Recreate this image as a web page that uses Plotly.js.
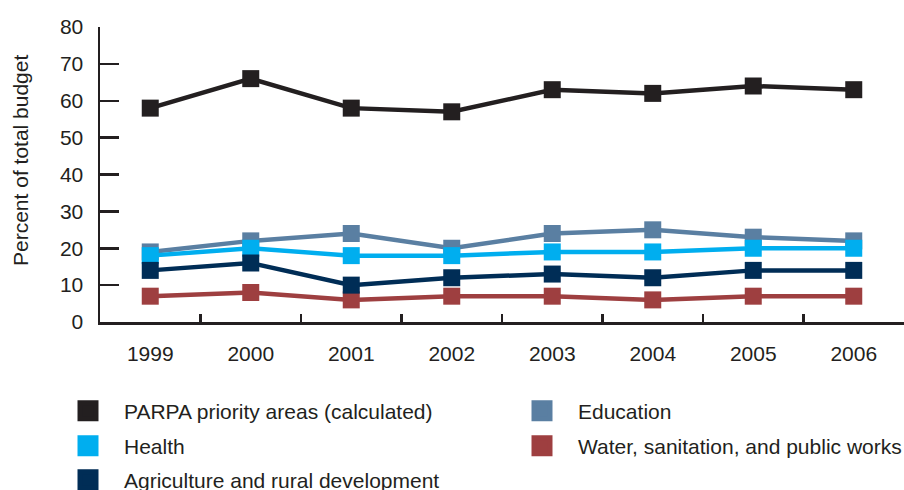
<!DOCTYPE html>
<html>
<head>
<meta charset="utf-8">
<script src="https://cdn.plot.ly/plotly-3.0.1.min.js"></script>
<style>html,body{margin:0;padding:0;background:#fff;}#chart{width:904px;height:490px;}</style>
</head>
<body>
<div id="chart"></div>
<script>
const years = ['1999','2000','2001','2002','2003','2004','2005','2006'];
const parpa = [58, 66, 58, 57, 63, 62, 64, 63];
const education = [19, 22, 24, 20, 24, 25, 23, 22];
const health = [18, 20, 18, 18, 19, 19, 20, 20];
const water = [7, 8, 6, 7, 7, 6, 7, 7];
const agriculture = [14, 16, 10, 12, 13, 12, 14, 14];
const yTicks = [0, 10, 20, 30, 40, 50, 60, 70, 80];
const seriesNames = ['PARPA priority areas (calculated)', 'Education', 'Health', 'Water, sanitation, and public works', 'Agriculture and rural development'];
const seriesValues = [parpa, education, health, water, agriculture];
const seriesColors = ['#231f20', '#5a7fa2', '#00aeef', '#9e3f40', '#002d56'];
const legendNames = ['legend', 'legend2', 'legend3', 'legend4', 'legend5'];

const FONT = 'Liberation Sans, Arial, sans-serif';
const INK = '#231f20';
const FS = 21;

const traces = [];
seriesValues.forEach((vals, i) => {
  traces.push({
    x: years, y: vals, type: 'scatter', mode: 'lines+markers',
    name: seriesNames[i], showlegend: false,
    line: {color: seriesColors[i], width: 4.5},
    marker: {symbol: 'square', size: 17, color: seriesColors[i]},
    hoverinfo: 'skip'
  });
});
// legend-only swatches
seriesValues.forEach((vals, i) => {
  traces.push({
    x: [null], y: [null], type: 'scatter', mode: 'markers',
    name: seriesNames[i], showlegend: true, legend: legendNames[i],
    marker: {symbol: 'square', size: 16, color: seriesColors[i], line: {color: seriesColors[i], width: 5}}
  });
});

// pixel -> paper helpers for layout placement
const L = 100, R = 904, T = 27, B = 322;
const px = v => (v - L) / (R - L);
const py = v => (B - v) / (B - T);
const legendPos = [[52, 411], [506, 411], [52, 446], [506, 446], [52, 480]];

const layout = {
  width: 904, height: 490,
  margin: {l: L, r: 904 - R, t: T, b: 490 - B, autoexpand: false},
  paper_bgcolor: '#fff', plot_bgcolor: '#fff',
  font: {family: FONT, size: FS, color: INK},
  showlegend: true,
  xaxis: {
    type: 'category', range: [-0.5, 7.5], tickson: 'boundaries',
    ticks: 'inside', ticklen: 8, tickwidth: 2.5, tickcolor: INK,
    showline: true, linecolor: INK, linewidth: 2.5,
    showgrid: false, zeroline: false, fixedrange: true,
    ticklabelstandoff: 11,
    tickfont: {size: FS, color: INK}
  },
  yaxis: {
    range: [0, 80], tickvals: yTicks,
    ticks: 'inside', ticklen: 19, tickwidth: 2.5, tickcolor: INK,
    showline: true, linecolor: INK, linewidth: 2.5,
    showgrid: false, zeroline: false, fixedrange: true,
    ticklabelstandoff: 10,
    tickfont: {size: FS, color: INK}
  },
  annotations: [{
    text: 'Percent of total budget', textangle: -90,
    xref: 'paper', yref: 'paper', x: px(20), y: py(161),
    xanchor: 'center', yanchor: 'middle', showarrow: false,
    font: {size: FS, color: INK, family: FONT}
  }]
};
legendNames.forEach((ln, i) => {
  layout[ln] = {
    x: px(legendPos[i][0]), y: py(legendPos[i][1]),
    xanchor: 'left', yanchor: 'middle',
    xref: 'paper', yref: 'paper',
    bgcolor: 'rgba(0,0,0,0)', borderwidth: 0,
    itemwidth: 62, itemclick: false, itemdoubleclick: false,
    font: {size: FS, color: INK, family: FONT}
  };
});

Plotly.newPlot('chart', traces, layout, {displayModeBar: false, staticPlot: true});
</script>
</body>
</html>
